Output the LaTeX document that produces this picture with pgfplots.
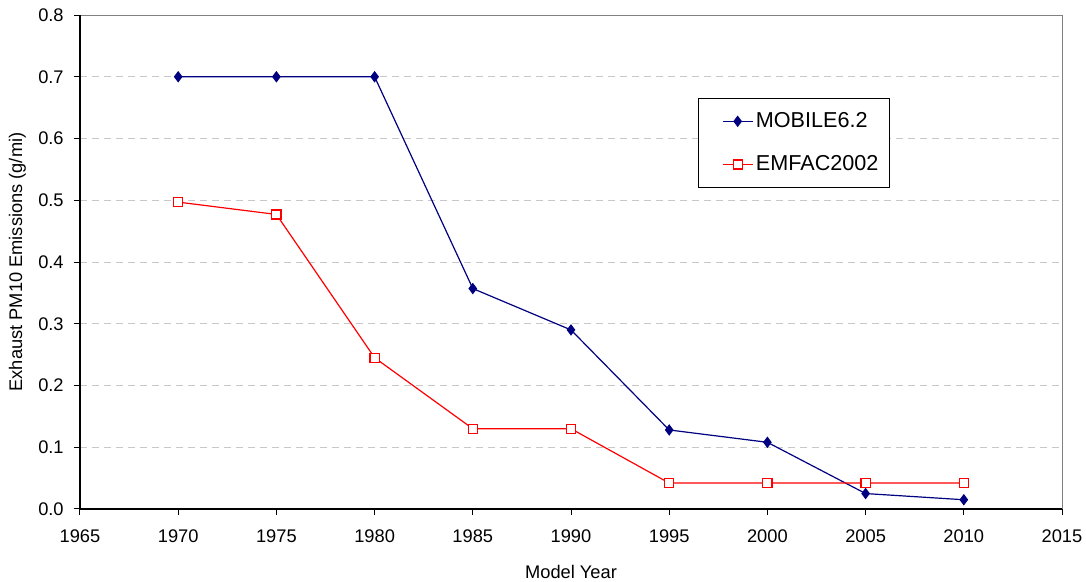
\documentclass[border=0pt]{standalone}
\usepackage{pgfplots}
\pgfplotsset{compat=1.18}
\usepackage{fontspec}
\setmainfont{Liberation Sans}
\definecolor{mobnavy}{RGB}{0,0,128}
\definecolor{emfred}{RGB}{255,0,0}
\definecolor{gridgray}{RGB}{200,200,200}
\begin{document}
\fontsize{13.7}{16}\selectfont
\begin{tikzpicture}
\useasboundingbox (0,0) rectangle (814.5pt,436.5pt);
\begin{axis}[
  at={(60pt,54.75pt)}, anchor=south west,
  scale only axis, width=736.5pt, height=370.5pt,
  xmin=1965, xmax=2015, ymin=0, ymax=0.8,
  xtick={1965,1970,...,2015},
  ytick={0,0.1,...,0.8},
  /pgf/number format/assume math mode=true,
  xticklabel style={/pgf/number format/1000 sep={}, yshift=-6pt},
  yticklabel style={/pgf/number format/fixed, /pgf/number format/fixed zerofill, /pgf/number format/precision=1, xshift=-3pt},
  tick align=outside, tick pos=left,
  major tick length=4.5pt,
  tick style={black, line width=0.75pt},
  ymajorgrids, grid style={gridgray, dash pattern=on 5pt off 4pt, line width=0.6pt},
  axis line style={gray, line width=0.75pt},
  xlabel={Model Year}, ylabel={Exhaust PM10 Emissions (g/mi)},
  xlabel style={yshift=-8pt},
  ylabel style={yshift=0pt},
  legend style={at={(0.629,0.832)}, anchor=north west, draw=black, line width=0.6pt, fill=white,
    inner xsep=6pt, inner ysep=8.5pt, row sep=15pt, font=\fontsize{16.2}{18}\selectfont},
  legend cell align=left,
  legend image code/.code={\path (-12pt,0pt); \draw[#1] (0pt,0pt) -- (22.5pt,0pt); \draw[#1, only marks] plot coordinates {(11.25pt,0pt)};},
  after end axis/.code={
    \draw[black, line width=1.1pt] (rel axis cs:0,0) -- (rel axis cs:0,1);
    \draw[black, line width=1.1pt] (rel axis cs:0,0) -- (rel axis cs:1,0);
  },
]
\addplot[mobnavy, line width=0.9pt, mark=diamond*, mark size=3.6pt, mark options={fill=mobnavy, solid}]
coordinates {(1970,0.700) (1975,0.700) (1980,0.700) (1985,0.357) (1990,0.290) (1995,0.128) (2000,0.108) (2005,0.025) (2010,0.015)};
\addlegendentry{MOBILE6.2\hspace{20pt}}
\addplot[emfred, line width=0.9pt, mark=square*, mark size=3.4pt, mark options={fill=white, solid}]
coordinates {(1970,0.497) (1975,0.477) (1980,0.245) (1985,0.130) (1990,0.130) (1995,0.042) (2000,0.042) (2005,0.042) (2010,0.042)};
\addlegendentry{EMFAC2002\hspace{20pt}}
\end{axis}
\end{tikzpicture}
\end{document}
